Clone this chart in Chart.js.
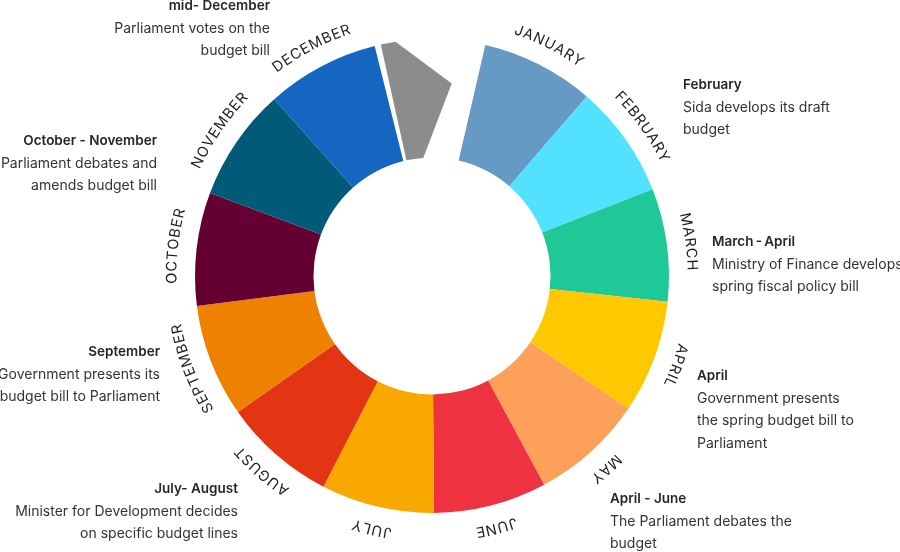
<!DOCTYPE html>
<html lang="en">
  <head>
    <meta charset="UTF-8" />
    <title>Budget year</title>
    <style>
      html,
      body {
        margin: 0;
        padding: 0;
        background: #fff;
      }
      #wrap {
        width: 900px;
        height: 552px;
        position: relative;
      }
    </style>
  </head>
  <body>
    <div id="wrap"><canvas id="chart_id"></canvas></div>
    <script src="https://cdn.jsdelivr.net/npm/chart.js@4.4.0/dist/chart.umd.min.js"></script>
    <script>
      // months round the ring, one equal slice each
      const months = ["JANUARY", "FEBRUARY", "MARCH", "APRIL", "MAY", "JUNE",
        "JULY", "AUGUST", "SEPTEMBER", "OCTOBER", "NOVEMBER", "DECEMBER"];
      const monthValues = [1, 1, 1, 1, 1, 1, 1, 1, 1, 1, 1, 1];
      const monthColors = ["#6699c4", "#52e2ff", "#1ec897", "#ffc800", "#fca05a", "#ee3240",
        "#f9a800", "#e33413", "#ef8100", "#650033", "#015a78", "#1566c0"];

      // the last slot: small white gap, grey marker, empty space before January
      const gapLabels = ["gap", "marker", "empty"];
      const gapValues = [0.055, 0.675, 0.243];
      const gapColors = ["rgba(0,0,0,0)", "#8c8c8c", "rgba(0,0,0,0)"];

      // notes round the chart
      const noteTitles = ["February", "March\u2009-\u2009April", "April", "April - June",
        "July- August", "September", "October - November", "mid- December"];
      const noteLines = [
        ["Sida develops its draft", "budget"],
        ["Ministry of Finance develops", "spring fiscal policy bill"],
        ["Government presents", "the spring budget bill to", "Parliament"],
        ["The Parliament debates the", "budget"],
        ["Minister for Development decides", "on specific budget lines"],
        ["Government presents its", "budget bill to Parliament"],
        ["Parliament debates and", "amends budget bill"],
        ["Parliament votes on the", "budget bill"],
      ];

      // where each note sits (x, y of title, alignment)
      const noteSpots = [
        { x: 683, y: 85, align: "left" },
        { x: 712, y: 242, align: "left" },
        { x: 697, y: 376, align: "left" },
        { x: 610, y: 499, align: "left" },
        { x: 238, y: 489, align: "right" },
        { x: 160, y: 352, align: "right" },
        { x: 157, y: 141, align: "right" },
        { x: 270, y: 6, align: "right" },
      ];

      const FONT = "Inter, 'Noto Sans', sans-serif";

      // chop the corner off the grey marker so it looks like the original
      const markerCut = {
        id: "markerCut",
        afterDatasetsDraw(chart) {
          const arc = chart.getDatasetMeta(0).data[13];
          if (!arc) return;
          const p = arc.getProps(["x", "y", "outerRadius", "innerRadius"], true);
          const pt = (deg, rad) => [
            p.x + rad * Math.sin((deg * Math.PI) / 180),
            p.y - rad * Math.cos((deg * Math.PI) / 180),
          ];
          const B = pt(-8.8, p.outerRadius);
          const C = pt(5.85, p.outerRadius * 0.817);
          const D = pt(-4.2, p.innerRadius);
          const B2 = [B[0] + 0.4 * (B[0] - C[0]), B[1] + 0.4 * (B[1] - C[1])];
          const D2 = [D[0] + 0.4 * (D[0] - C[0]), D[1] + 0.4 * (D[1] - C[1])];
          const P4 = pt(9.5, p.innerRadius * 0.5);
          const P5 = pt(9.5, p.outerRadius * 1.3);
          const ctx = chart.ctx;
          ctx.save();
          ctx.fillStyle = "#fff";
          ctx.beginPath();
          ctx.moveTo(B2[0], B2[1]);
          ctx.lineTo(C[0], C[1]);
          ctx.lineTo(D2[0], D2[1]);
          ctx.lineTo(P4[0], P4[1]);
          ctx.lineTo(P5[0], P5[1]);
          ctx.closePath();
          ctx.fill();
          ctx.restore();
        },
      };

      // month names bent round the outside of the ring
      const monthNames = {
        id: "monthNames",
        afterDatasetsDraw(chart) {
          const meta = chart.getDatasetMeta(0);
          const ctx = chart.ctx;
          const spacing = 1.0;
          ctx.save();
          ctx.font = "400 14.5px " + FONT;
          ctx.fillStyle = "#1e1e1e";
          ctx.textAlign = "center";
          ctx.textBaseline = "middle";
          months.forEach((name, i) => {
            const arc = meta.data[i];
            const p = arc.getProps(["x", "y", "startAngle", "endAngle", "outerRadius"], true);
            const r = p.outerRadius + 23;
            const mid = (p.startAngle + p.endAngle) / 2;
            const widths = [...name].map((ch) => ctx.measureText(ch).width);
            const total = widths.reduce((a, b) => a + b, 0) + spacing * (name.length - 1);
            let run = -total / 2;
            [...name].forEach((ch, k) => {
              const a = mid + (run + widths[k] / 2) / r;
              ctx.save();
              ctx.translate(p.x, p.y);
              ctx.rotate(a + Math.PI / 2);
              ctx.fillText(ch, 0, -r);
              ctx.restore();
              run += widths[k] + spacing;
            });
          });
          ctx.restore();
        },
      };

      // notes round the chart
      const notes = {
        id: "notes",
        afterDraw(chart) {
          const ctx = chart.ctx;
          const lh = 22.5;
          ctx.save();
          ctx.textBaseline = "middle";
          noteTitles.forEach((title, i) => {
            const s = noteSpots[i];
            ctx.textAlign = s.align;
            ctx.font = "600 13.5px " + FONT;
            ctx.fillStyle = "#262626";
            ctx.fillText(title, s.x, s.y);
            ctx.font = "400 14px " + FONT;
            ctx.fillStyle = "#333333";
            noteLines[i].forEach((line, k) => {
              ctx.fillText(line, s.x, s.y + lh * (k + 1));
            });
          });
          ctx.restore();
        },
      };

      let ctx = document.getElementById("chart_id").getContext("2d");

      let chart = new Chart(ctx, {
        type: "doughnut",
        data: {
          labels: months.concat(gapLabels),
          datasets: [
            {
              data: monthValues.concat(gapValues),
              backgroundColor: monthColors.concat(gapColors),
              borderWidth: 0,
            },
          ],
        },
        options: {
          responsive: true,
          maintainAspectRatio: false,
          animation: false,
          events: [],
          rotation: 13,
          cutout: "50%",
          layout: { padding: { left: 195, right: 231, top: 39, bottom: 39 } },
          plugins: {
            legend: { display: false },
            tooltip: { enabled: false },
          },
        },
        plugins: [markerCut, monthNames, notes],
      });
    </script>
  </body>
</html>
